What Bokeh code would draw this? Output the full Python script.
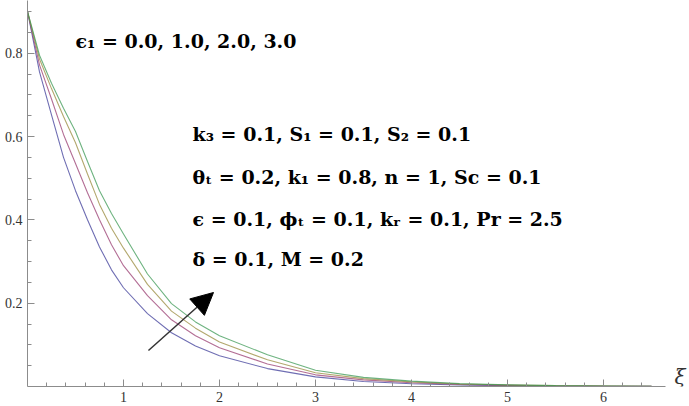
from bokeh.plotting import figure
from bokeh.models import FixedTicker, Label, Arrow, NormalHead, Range1d
from bokeh.embed import file_html
from bokeh.resources import INLINE

# ---- data ----
xi = [0.0, 0.125, 0.25, 0.375, 0.5, 0.625, 0.75, 0.875, 1.0, 1.25, 1.5, 1.75, 2.0,
      2.5, 3.0, 3.5, 4.0, 4.5, 5.0, 5.5, 6.0, 6.5]
eps1_values = ["0.0", "1.0", "2.0", "3.0"]
curve_eps1_0 = [0.90, 0.755, 0.652, 0.55, 0.47, 0.40, 0.335, 0.28, 0.237, 0.175, 0.129, 0.097, 0.074,
                0.043, 0.023, 0.012, 0.0065, 0.0035, 0.002, 0.001, 0.0005, 0.0003]
curve_eps1_1 = [0.90, 0.772, 0.69, 0.605, 0.535, 0.465, 0.40, 0.34, 0.29, 0.218, 0.160, 0.122, 0.093,
                0.054, 0.028, 0.016, 0.009, 0.005, 0.0028, 0.0015, 0.0008, 0.0004]
curve_eps1_2 = [0.90, 0.786, 0.715, 0.648, 0.585, 0.51, 0.437, 0.38, 0.332, 0.245, 0.181, 0.140, 0.107,
                0.064, 0.033, 0.019, 0.011, 0.006, 0.0035, 0.002, 0.001, 0.0005]
curve_eps1_3 = [0.90, 0.795, 0.728, 0.668, 0.612, 0.54, 0.47, 0.415, 0.366, 0.27, 0.199, 0.155, 0.122,
                0.076, 0.039, 0.022, 0.013, 0.007, 0.004, 0.0022, 0.0012, 0.0006]
curves = [curve_eps1_0, curve_eps1_1, curve_eps1_2, curve_eps1_3]
colors = ["#3f3d99", "#993d71", "#998b3d", "#3d9956"]

x_major = [1, 2, 3, 4, 5, 6]
x_minor = [round(0.2 * i, 2) for i in range(1, 33) if i % 5 != 0]
y_major = [0.2, 0.4, 0.6, 0.8]
y_minor = [round(0.05 * i, 2) for i in range(1, 19) if i % 4 != 0]

param_lines = [
    "k\u2083 = 0.1, S\u2081 = 0.1, S\u2082 = 0.1",
    "\u03b8\u209c = 0.2, k\u2081 = 0.8, n = 1, Sc = 0.1",
    "\u03f5 = 0.1, \u03d5\u209c = 0.1, k\u1d63 = 0.1, Pr = 2.5",
    "\u03b4 = 0.1, M = 0.2",
]
param_y = [0.607, 0.502, 0.403, 0.307]

p = figure(frame_width=662, frame_height=386, output_backend="svg", toolbar_location=None,
           x_range=Range1d(0, 6.896), y_range=Range1d(0, 0.9264),
           min_border_left=27, min_border_right=0, min_border_top=0, min_border_bottom=20)
p.outline_line_color = None
p.grid.visible = False
p.background_fill_color = "white"

for ys, c in zip(curves, colors):
    p.line(xi, ys, line_color=c, line_width=1.1, line_alpha=0.75)

axis_color = "#8c8c8c"
for ax in (p.xaxis[0], p.yaxis[0]):
    ax.axis_line_color = axis_color
    ax.major_tick_line_color = axis_color
    ax.minor_tick_line_color = axis_color
    ax.major_tick_in = 7
    ax.major_tick_out = 0
    ax.minor_tick_in = 4
    ax.minor_tick_out = 0
    ax.major_label_text_font = "Liberation Serif"
    ax.major_label_text_font_size = "14px"
    ax.major_label_text_color = "#333333"

p.xaxis.ticker = FixedTicker(ticks=x_major, minor_ticks=x_minor)
p.yaxis.ticker = FixedTicker(ticks=y_major, minor_ticks=y_minor)
p.xaxis.major_label_standoff = 5
p.yaxis.major_label_standoff = 5
p.xaxis.bounds = (0, 6.65)

p.add_layout(Label(x=6.74, y=0.022, text="\u03be", text_font="DejaVu Serif",
                   text_font_style="italic", text_font_size="20px",
                   text_baseline="middle", text_align="left", text_color="#333333"))

text_font = "DejaVu Serif"
p.add_layout(Label(x=0.5, y=0.830,
                   text="\u03f5\u2081 = " + ", ".join(eps1_values),
                   text_font=text_font, text_font_style="bold", text_color="black",
                   text_font_size="19px", text_baseline="middle"))

for t, yy in zip(param_lines, param_y):
    p.add_layout(Label(x=1.719, y=yy, text=t, text_font=text_font,
                       text_font_style="bold", text_font_size="19px", text_color="black",
                       text_baseline="middle"))

p.add_layout(Arrow(x_start=1.26, y_start=0.0864, x_end=1.9375, y_end=0.2256,
                   line_color="#333333", line_width=1.5,
                   end=NormalHead(size=22, fill_color="black", line_color="black")))

open("out.html", "w").write(file_html(p, INLINE))
